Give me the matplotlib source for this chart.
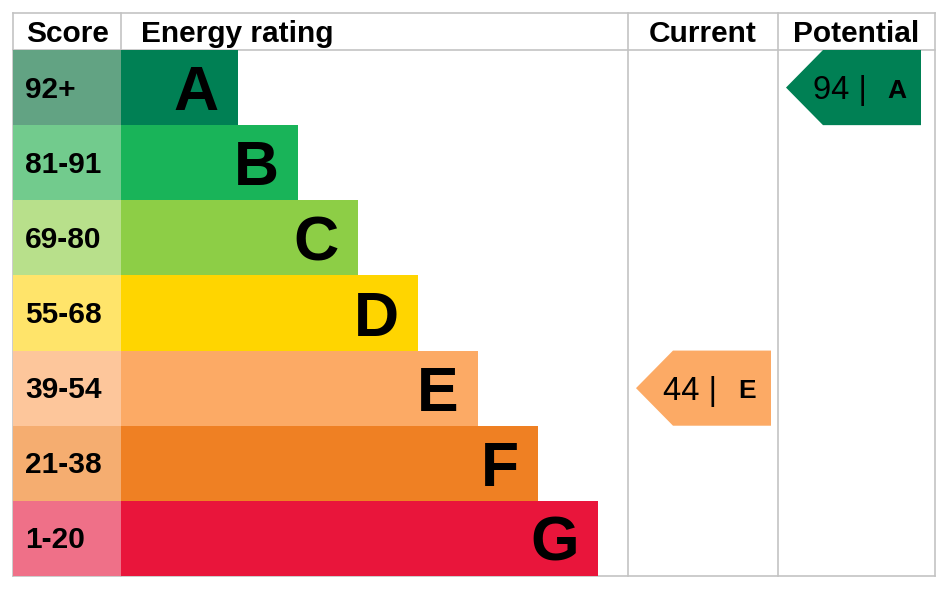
import matplotlib
matplotlib.use("Agg")
import matplotlib.pyplot as plt
from matplotlib.patches import Rectangle, Polygon

plt.rcParams['font.family'] = ['Liberation Sans', 'DejaVu Sans']

# EPC bands, best to worst
bands = ["A", "B", "C", "D", "E", "F", "G"]
score_ranges = ["92+", "81-91", "69-80", "55-68", "39-54", "21-38", "1-20"]
band_colors = ["#008054", "#19b459", "#8dce46", "#ffd500", "#fcaa65", "#ef8023", "#e9153b"]
score_colors = ["#62a383", "#72cb8d", "#b8e08b", "#ffe46a", "#fdc69b", "#f5ad70", "#ef7088"]
headers = ["Score", "Energy rating", "Current", "Potential"]

current_score, current_band = 44, "E"
potential_score, potential_band = 94, "A"

# layout in pixel units
W, H = 949, 591
left, top, head_bot, bottom = 13, 13, 50, 576
col_edges = [13, 121, 628, 778, 935]
row_h = (bottom - head_bot) / len(bands)
bar_base, bar_step = 117, 60
grid_col = "#c3c3c3"

fig = plt.figure(figsize=(W / 100, H / 100), dpi=100)
ax = fig.add_axes([0, 0, 1, 1])
ax.set_xlim(0, W)
ax.set_ylim(H, 0)
ax.axis("off")

# grid lines
for y in (top, head_bot, bottom):
    ax.plot([left, col_edges[-1]], [y, y], color=grid_col, lw=1.2)
for x in col_edges:
    ax.plot([x, x], [top, bottom], color=grid_col, lw=1.2)

# headers
head_base = 42
ax.text(26, head_base, headers[0], fontsize=21.5, fontweight="bold", va="baseline", ha="left")
ax.text(141, head_base, headers[1], fontsize=21.5, fontweight="bold", va="baseline", ha="left")
ax.text((col_edges[2] + col_edges[3]) / 2, head_base, headers[2], fontsize=21.5,
        fontweight="bold", va="baseline", ha="center")
ax.text((col_edges[3] + col_edges[4]) / 2, head_base, headers[3], fontsize=21.5,
        fontweight="bold", va="baseline", ha="center")

# bands
for i, (band, rng) in enumerate(zip(bands, score_ranges)):
    y0 = head_bot + i * row_h
    yc = y0 + row_h / 2
    ax.add_patch(Rectangle((col_edges[0], y0), col_edges[1] - col_edges[0], row_h,
                           facecolor=score_colors[i], edgecolor="none", zorder=2))
    ax.text(25, yc + 10, rng, fontsize=21.5, fontweight="bold", va="baseline", ha="left", zorder=3)
    bar_end = col_edges[1] + bar_base + i * bar_step
    ax.add_patch(Rectangle((col_edges[1], y0), bar_end - col_edges[1], row_h,
                           facecolor=band_colors[i], edgecolor="none", zorder=2))
    ax.text(bar_end - 19, yc + 22.5, band, fontsize=45, fontweight="bold", va="baseline",
            ha="right", zorder=3)


def rating_arrow(x_right, score, band):
    i = bands.index(band)
    y0 = head_bot + i * row_h
    yc = y0 + row_h / 2
    x_rect = x_right - 98
    x_tip = x_rect - 37
    ax.add_patch(Polygon([(x_tip, yc), (x_rect, y0), (x_right, y0),
                          (x_right, y0 + row_h), (x_rect, y0 + row_h)],
                         closed=True, facecolor=band_colors[i], edgecolor="none", zorder=2))
    ax.text(x_rect - 10, yc + 11.5, f"{score} |", fontsize=23.5, va="baseline", ha="left", zorder=3)
    ax.text(x_right - 15, yc + 10, band, fontsize=19, fontweight="bold", va="baseline",
            ha="right", zorder=3)


rating_arrow(771, current_score, current_band)
rating_arrow(921, potential_score, potential_band)

fig.savefig("out.png", dpi=100, facecolor="white")
